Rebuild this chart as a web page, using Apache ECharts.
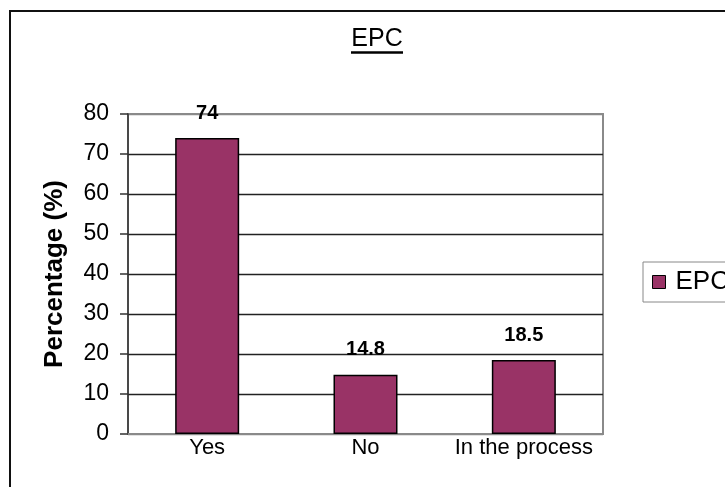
<!DOCTYPE html>
<html>
<head>
<meta charset="utf-8">
<script src="https://cdn.jsdelivr.net/npm/echarts@6/dist/echarts.min.js"></script>
<style>
  html, body { margin: 0; padding: 0; background: #fff; }
  #chart { width: 725px; height: 487px; }
</style>
</head>
<body>
<div id="chart"></div>
<script>
// EPC survey responses, percentage of respondents
const categories = ['Yes', 'No', 'In the process'];
const epcValues = [74, 14.8, 18.5];
const yTicks = { min: 0, max: 80, interval: 10 };

const FONT = '"Liberation Sans", Arial, sans-serif';

const chart = echarts.init(document.getElementById('chart'), null, { renderer: 'canvas' });

chart.setOption({
  backgroundColor: '#ffffff',
  animation: false,
  title: {
    text: 'EPC',
    left: 377,
    top: 27,
    padding: 0,
    textAlign: 'center',
    textStyle: { fontFamily: FONT, fontSize: 25, fontWeight: 'normal', color: '#000' }
  },
  legend: {
    data: ['EPC'],
    left: 643,
    top: 262,
    orient: 'vertical',
    padding: [7, 60, 7, 9],
    borderColor: '#888',
    borderWidth: 1,
    icon: 'rect',
    itemWidth: 13,
    itemHeight: 13,
    itemStyle: { borderColor: '#000', borderWidth: 1 },
    textStyle: { fontFamily: FONT, fontSize: 26, color: '#000', padding: [0, 0, 0, 5] }
  },
  grid: {
    left: 128,
    right: 122,
    top: 114,
    bottom: 53,
    show: true,
    borderColor: '#8a8a8a',
    borderWidth: 2,
    backgroundColor: 'transparent'
  },
  xAxis: {
    type: 'category',
    data: categories,
    axisLine: { show: true, lineStyle: { color: '#8a8a8a', width: 2 } },
    axisTick: { show: false },
    axisLabel: { interval: 0, fontFamily: FONT, fontSize: 22, color: '#000', margin: 3 },
    splitLine: { show: false }
  },
  yAxis: {
    type: 'value',
    min: yTicks.min,
    max: yTicks.max,
    interval: yTicks.interval,
    name: 'Percentage (%)',
    nameLocation: 'middle',
    nameRotate: 90,
    nameGap: 60,
    nameTextStyle: { fontFamily: FONT, fontSize: 26, fontWeight: 'bold', color: '#000' },
    axisLine: { show: true, lineStyle: { color: '#333', width: 1.5 } },
    axisTick: { show: true, inside: false, length: 8, lineStyle: { color: '#333', width: 1.5 } },
    axisLabel: { fontFamily: FONT, fontSize: 23, color: '#000', margin: 19 },
    splitLine: {
      show: true,
      lineStyle: {
        color: ['#8a8a8a', '#222', '#222', '#222', '#222', '#222', '#222', '#222', '#8a8a8a'],
        width: 1.3
      }
    }
  },
  series: [{
    name: 'EPC',
    type: 'bar',
    data: epcValues,
    barWidth: 64,
    itemStyle: { color: '#993366', borderColor: '#000', borderWidth: 1.5 },
    label: {
      show: true,
      position: 'top',
      distance: 15,
      fontFamily: FONT,
      fontSize: 20,
      fontWeight: 'bold',
      color: '#000'
    }
  }],
  graphic: [
    {
      // chart frame
      type: 'rect',
      silent: true,
      z: 100,
      shape: { x: 10, y: 11, width: 900, height: 700 },
      style: { fill: 'none', stroke: '#111', lineWidth: 2 }
    },
    {
      // title underline
      type: 'line',
      silent: true,
      shape: { x1: 351, y1: 52.5, x2: 403, y2: 52.5 },
      style: { stroke: '#000', lineWidth: 2.5 }
    }
  ]
});
</script>
</body>
</html>
